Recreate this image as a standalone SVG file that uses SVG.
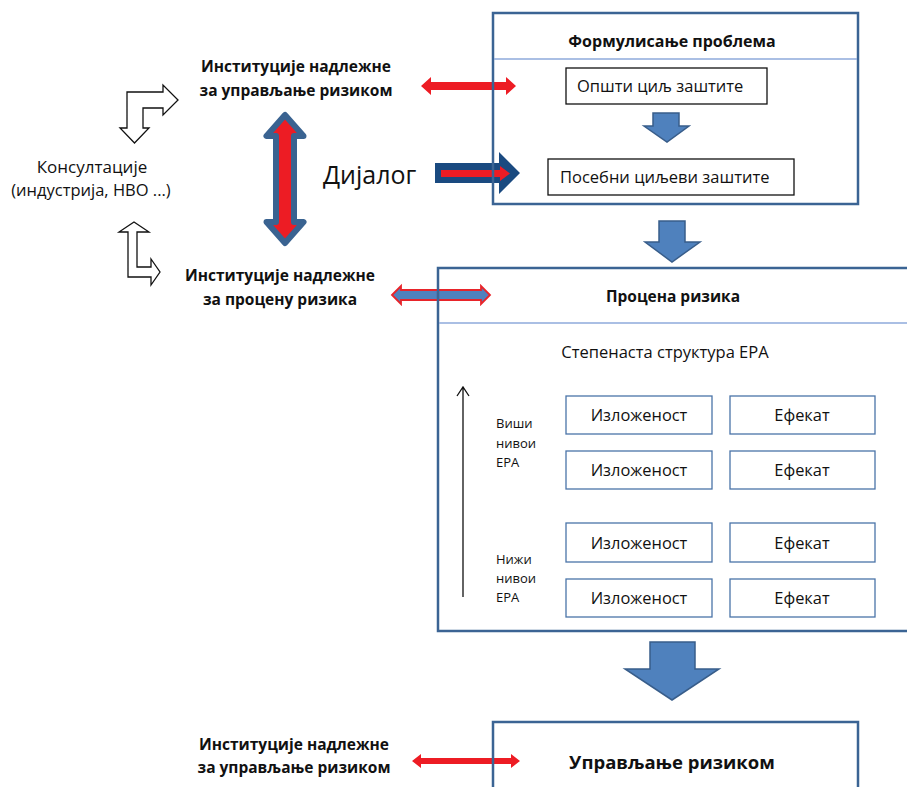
<svg xmlns="http://www.w3.org/2000/svg" width="907" height="787" viewBox="0 0 907 787">
<style>
text{font-family:"Open Sans","Noto Sans","DejaVu Sans",sans-serif;fill:#111}
.b{font-weight:bold}
.big{fill:none;stroke:#3b6494;stroke-width:2.5}
.div{stroke:#8eaadb;stroke-width:1.5}
.kbox{fill:#fff;stroke:#111;stroke-width:1.3}
.ebox{fill:#fff;stroke:#4a74a8;stroke-width:1.3}
.down{fill:#4f81bd;stroke:#385d8a;stroke-width:1.5;stroke-linejoin:miter}
.red{fill:#ed1c24}
.hollow{fill:#fff;stroke:#111;stroke-width:1.3;stroke-linejoin:miter}
</style>
<rect width="907" height="787" fill="#fff"/>
<g id="connectors">
  <path class="hollow" d="M127,92 H163 V85 L178,100 L163,115 V108 H143 V128 H149 L134.5,143 L120,128 H127 Z"/>
  <path class="hollow" d="M134,222 L149,232 H137 V267 H151 V259 L160,272 L151,285 V277 H128 V232 H119 Z"/>
  <path class="red" d="M421,86 L431,77 V82 H506 V77 L516,86 L506,95 V90 H431 V95 Z"/>
  <path class="red" d="M412,761 L421,754 V758 H511 V754 L520,761 L511,768 V764 H421 V768 Z"/>
  <path d="M392,295 L401,286 V290 H481 V286 L490,295 L481,304 V300 H401 V304 Z" fill="#4f81bd" stroke="#e8242a" stroke-width="1.8"/>
  <path d="M285,115 L266.5,136 H276 V222 H266.5 L285,243 L303.5,222 H294 V136 H303.5 Z" fill="#ed1c24" stroke="#3a6391" stroke-width="6" stroke-linejoin="round"/>
  <path d="M435,163 H499 V152 L520,173 L499,194 V183 H435 Z" fill="#1a4a80"/>
  <path class="red" d="M441,170 H500 V166 L510,173.5 L500,181 V177 H441 Z"/>
  <path class="down" d="M659,221 H685 V242 H700 L672,262 L645,242 H659 Z"/>
  <path class="down" d="M650,642 H695 V669 H719 L672,700 L625,669 H650 Z"/>
  <path d="M463,597 V388 M457,396 L463,387 L469,396" fill="none" stroke="#111" stroke-width="1.3"/>
</g>
<g id="consultations">
  <text x="92" y="173" font-size="17" text-anchor="middle">Консултације</text>
  <text x="91" y="196" font-size="16.5" text-anchor="middle">(индустрија, НВО ...)</text>
</g>
<g id="inst-management-top">
  <text class="b" x="296" y="72" font-size="15.5" text-anchor="middle">Институције надлежне</text>
  <text class="b" x="296" y="96" font-size="15.5" text-anchor="middle">за управљање ризиком</text>
</g>
<g id="inst-assessment">
  <text class="b" x="280" y="281" font-size="15.5" text-anchor="middle">Институције надлежне</text>
  <text class="b" x="280" y="305" font-size="15.5" text-anchor="middle">за процену ризика</text>
</g>
<g id="dialog">
  <text x="323" y="184" font-size="25">Дијалог</text>
</g>
<g id="inst-management-bottom">
  <text class="b" x="294" y="750" font-size="15.5" text-anchor="middle">Институције надлежне</text>
  <text class="b" x="294" y="773" font-size="15.5" text-anchor="middle">за управљање ризиком</text>
</g>
<g id="problem-formulation">
  <rect class="big" x="493" y="13" width="365" height="191"/>
  <line class="div" x1="494" y1="59" x2="857" y2="59"/>
  <text class="b" x="672" y="47" font-size="16" text-anchor="middle">Формулисање проблема</text>
  <g id="general-goal">
    <rect class="kbox" x="566" y="68" width="201" height="36"/>
    <text x="577" y="92" font-size="16.5">Општи циљ заштите</text>
  </g>
  <g id="specific-goals">
    <rect class="kbox" x="548" y="159" width="246" height="36"/>
    <text x="560" y="183" font-size="16.5">Посебни циљеви заштите</text>
  </g>
  <path class="down" d="M653,113 H679 V126 H689 L667,142 L644,126 H653 Z"/>
</g>
<g id="risk-assessment">
  <path class="big" d="M908,268 H438 V631 H908"/>
  <line class="div" x1="439" y1="323" x2="907" y2="323"/>
  <text class="b" x="673" y="302" font-size="15.5" text-anchor="middle">Процена ризика</text>
  <text x="665" y="358" font-size="16.5" text-anchor="middle">Степенаста структура ЕРА</text>
  <text x="496" y="428" font-size="13">Виши</text>
  <text x="496" y="448" font-size="13">нивои</text>
  <text x="496" y="467" font-size="13">ЕРА</text>
  <text x="496" y="564" font-size="13">Нижи</text>
  <text x="496" y="583" font-size="13">нивои</text>
  <text x="496" y="602" font-size="13">ЕРА</text>
  <g id="exp1"><rect class="ebox" x="566" y="396" width="146" height="38"/><text x="639" y="421" font-size="16.4" text-anchor="middle">Изложеност</text></g>
  <g id="eff1"><rect class="ebox" x="730" y="396" width="145" height="38"/><text x="802" y="421" font-size="16.4" text-anchor="middle">Ефекат</text></g>
  <g id="exp2"><rect class="ebox" x="566" y="451" width="146" height="38"/><text x="639" y="476" font-size="16.4" text-anchor="middle">Изложеност</text></g>
  <g id="eff2"><rect class="ebox" x="730" y="451" width="145" height="38"/><text x="802" y="476" font-size="16.4" text-anchor="middle">Ефекат</text></g>
  <g id="exp3"><rect class="ebox" x="566" y="523" width="146" height="39"/><text x="639" y="549" font-size="16.4" text-anchor="middle">Изложеност</text></g>
  <g id="eff3"><rect class="ebox" x="730" y="523" width="145" height="39"/><text x="802" y="549" font-size="16.4" text-anchor="middle">Ефекат</text></g>
  <g id="exp4"><rect class="ebox" x="566" y="579" width="146" height="38"/><text x="639" y="604" font-size="16.4" text-anchor="middle">Изложеност</text></g>
  <g id="eff4"><rect class="ebox" x="730" y="579" width="145" height="38"/><text x="802" y="604" font-size="16.4" text-anchor="middle">Ефекат</text></g>
</g>
<g id="risk-management">
  <path class="big" d="M493,790 V722 H858 V790"/>
  <text class="b" x="672" y="769" font-size="18.5" text-anchor="middle">Управљање ризиком</text>
</g>
</svg>
